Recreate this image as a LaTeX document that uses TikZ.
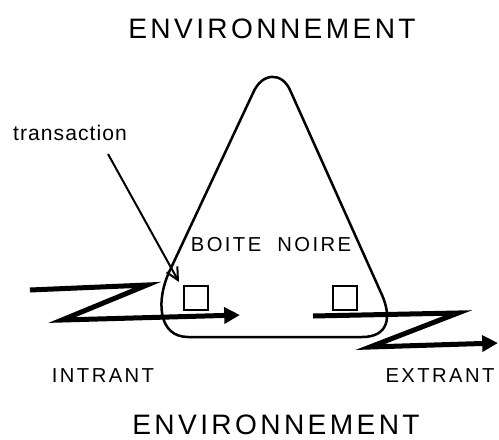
\documentclass[tikz,border=0pt]{standalone}
\usepackage{fontspec}
\setmainfont{Liberation Sans}
\newfontfamily\capsfont[LetterSpace=12]{Liberation Sans}
\newfontfamily\smallfont[LetterSpace=5]{Liberation Sans}
\usetikzlibrary{arrows.meta, positioning}
\tikzstyle{title} = [font=\capsfont\fontsize{16pt}{18pt}\selectfont, inner sep=1pt]
\tikzstyle{caps} = [font=\capsfont\fontsize{11.5pt}{13pt}\selectfont]
\tikzstyle{note} = [font=\smallfont\fontsize{12pt}{14pt}\selectfont]
\tikzstyle{boundary} = [line width=0.05cm, line join=round]
\tikzstyle{flow} = [line width=0.1cm, line join=miter, -{Triangle[length=9pt, width=9pt]}]
\tikzstyle{unit} = [draw, line width=0.04cm, minimum size=0.48cm, inner sep=0]

\begin{document}
\begin{tikzpicture}[x=0.02cm, y=-0.02cm]
				\useasboundingbox (0, 0) rectangle (499, 439);

				\node (EnvTop) [title] at (272, 29) {ENVIRONNEMENT};
				\node (EnvBottom) [title] at (276, 425) {ENVIRONNEMENT};

				% the black box
				\draw [boundary] (171, 268) -- (253, 93) .. controls (262, 72) and (282, 72) .. (290, 90)
					-- (382, 295) .. controls (392, 318) and (388, 337) .. (362, 337)
					-- (188, 337) .. controls (158, 337) and (155, 300) .. (171, 268) -- cycle;
				\node (BoxName) [caps] at (271, 245) {BOITE\hspace{0.8em}NOIRE};

				% input
				\coordinate (InStart) at (30, 290);
				\coordinate (InTop) at (147, 285);
				\coordinate (InLow) at (62, 320);
				\coordinate (InEnd) at (240, 315);
				\draw [flow] (InStart) -- (InTop) -- (InLow) -- (InEnd);
				\node (InUnit) [unit] at (196, 298) {};
				\node (Intrant) [caps] at (103, 376) {INTRANT};

				% output
				\coordinate (OutStart) at (313, 316);
				\coordinate (OutTop) at (458, 313);
				\coordinate (OutLow) at (370, 347);
				\coordinate (OutEnd) at (498, 343);
				\draw [flow] (OutStart) -- (OutTop) -- (OutLow) -- (OutEnd);
				\node (OutUnit) [unit] at (345, 298) {};
				\node (Extrant) [caps] at (440, 376) {EXTRANT};

				% transaction
				\node (Transaction) [note] at (70, 133) {transaction};
				\coordinate (TransFrom) at (108, 154);
				\coordinate (TransTo) at (179, 282);
				\draw [line width=0.04cm, -{Straight Barb[length=7pt, width=7pt]}] (TransFrom) -- (TransTo);
			\end{tikzpicture}
\end{document}
